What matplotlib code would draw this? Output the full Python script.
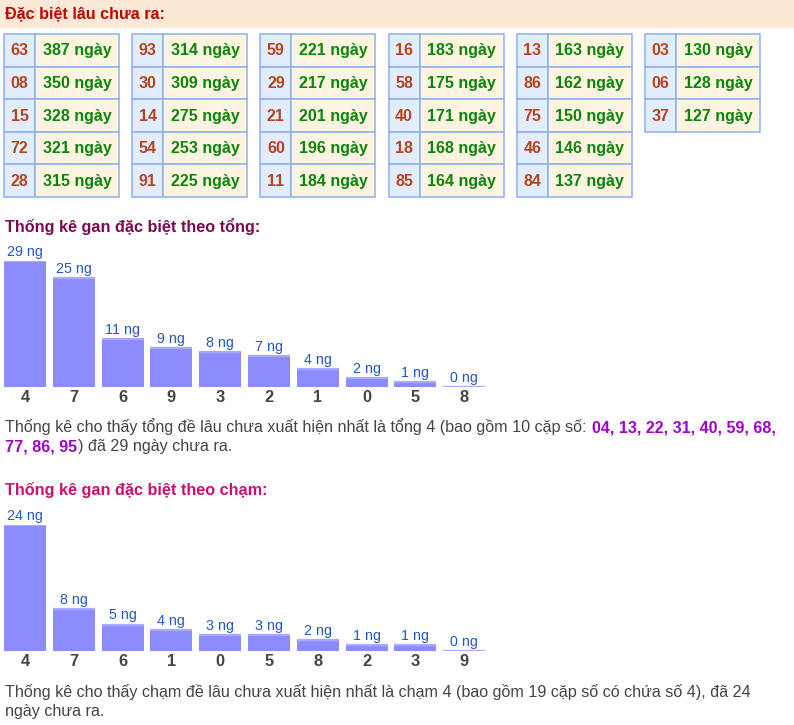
"""Thống kê gan đặc biệt: bảng lâu chưa ra và biểu đồ theo tổng / chạm."""
import matplotlib
matplotlib.use("Agg")
import matplotlib.pyplot as plt
from matplotlib.patches import Rectangle
from matplotlib import font_manager

plt.rcParams['font.family'] = ['Liberation Sans', 'DejaVu Sans']

# bảng "Đặc biệt lâu chưa ra"
cap_so = ["63", "08", "15", "72", "28",
          "93", "30", "14", "54", "91",
          "59", "29", "21", "60", "11",
          "16", "58", "40", "18", "85",
          "13", "86", "75", "46", "84",
          "03", "06", "37"]
so_ngay = [387, 350, 328, 321, 315,
           314, 309, 275, 253, 225,
           221, 217, 201, 196, 184,
           183, 175, 171, 168, 164,
           163, 162, 150, 146, 137,
           130, 128, 127]

# biểu đồ theo tổng
tong_labels = ["4", "7", "6", "9", "3", "2", "1", "0", "5", "8"]
tong_values = [29, 25, 11, 9, 8, 7, 4, 2, 1, 0]

# biểu đồ theo chạm
cham_labels = ["4", "7", "6", "1", "0", "5", "8", "2", "3", "9"]
cham_values = [24, 8, 5, 4, 3, 3, 2, 1, 1, 0]

W, H = 794, 725
fig = plt.figure(figsize=(W / 100, H / 100), dpi=100)
bg = fig.add_axes([0, 0, 1, 1])
bg.set_xlim(0, W)
bg.set_ylim(H, 0)
bg.axis('off')

# tiêu đề đầu trang
bg.add_patch(Rectangle((0, 0), W, 27.5, color='#FCEAD6', lw=0))
bg.text(5, 13.5, "Đặc biệt lâu chưa ra:", color='#C40000', fontsize=11.6,
        fontweight='bold', va='center', ha='left')

# các bảng
row_h = 32.6
top = 34
col1, col2 = 31, 84
for k, (num, d) in enumerate(zip(cap_so, so_ngay)):
    t, r = divmod(k, 5)
    x0 = 4 + 128.2 * t
    y0 = top + r * row_h
    bg.add_patch(Rectangle((x0, y0), col1, row_h, facecolor='#E2EEFF',
                           edgecolor='#8CB0F2', lw=1.1))
    bg.add_patch(Rectangle((x0 + col1, y0), col2, row_h, facecolor='#FFF3E2',
                           edgecolor='#8CB0F2', lw=1.1))
    bg.text(x0 + col1 / 2, y0 + row_h / 2 + 0.5, num, color='#B8441E',
            fontsize=11.5, fontweight='bold', va='center', ha='center')
    bg.text(x0 + col1 + col2 / 2, y0 + row_h / 2 + 0.5, f"{d} ngày",
            color='#0A870A', fontsize=11.5, fontweight='bold',
            va='center', ha='center')


def bar_chart(labels, values, base_y, title, title_color):
    bg.text(5, base_y - 160.5, title, color=title_color, fontsize=11.7,
            fontweight='bold', va='center', ha='left')
    ax = fig.add_axes([0.6 / W, (H - base_y) / H, 488 / W, 125.7 / H])
    x = range(len(values))
    ax.bar(x, values, width=0.86, color='#8C8CFF', lw=0)
    ax.hlines(values, [i - 0.43 for i in x], [i + 0.43 for i in x],
              color='#A9A9FF', lw=1.6)
    for i, v in enumerate(values):
        ax.annotate(f"{v} ng", (i, v), xytext=(0, 1.5),
                    textcoords='offset points', ha='center', va='bottom',
                    color='#2256C8', fontsize=10.3, annotation_clip=False)
    ax.set_xlim(-0.5, len(values) - 0.5)
    ax.set_ylim(0, max(values))
    ax.set_xticks(list(x))
    ax.set_xticklabels(labels, fontsize=11.8, fontweight='bold', color='#444444')
    ax.tick_params(axis='x', length=0, pad=2.5)
    ax.set_yticks([])
    for s in ax.spines.values():
        s.set_visible(False)
    ax.patch.set_alpha(0)


bar_chart(tong_labels, tong_values, 386.7,
          "Thống kê gan đặc biệt theo tổng:", '#7A0A52')
bar_chart(cham_labels, cham_values, 650.7,
          "Thống kê gan đặc biệt theo chạm:", '#CC1070')

renderer = fig.canvas.get_renderer()
GREY = '#444444'
PURPLE = '#A000CC'

# chữ đoạn văn trong bản gốc hẹp hơn: dùng Liberation Sans Narrow nếu có
names = {f.name for f in font_manager.fontManager.ttflist}
PARA_FONT = ['Liberation Sans Narrow'] if 'Liberation Sans Narrow' in names else ['Liberation Sans']
PARA_FONT = PARA_FONT + ['DejaVu Sans']

para1 = [
    [("Thống kê cho thấy tổng đề lâu chưa xuất hiện nhất là tổng 4 (bao gồm 10 cặp số:", GREY, 'normal'),
     ("04, 13, 22, 31, 40, 59, 68,", PURPLE, 'bold')],
    [("77, 86, 95", PURPLE, 'bold'),
     (") đã 29 ngày chưa ra.", GREY, 'normal')],
]
para2 = [
    [("Thống kê cho thấy chạm đề lâu chưa xuất hiện nhất là chạm 4 (bao gồm 19 cặp số có chứa số 4), đã 24", GREY, 'normal')],
    [("ngày chưa ra.", GREY, 'normal')],
]


def width_of(s, fs, weight='normal'):
    t = bg.text(0, 0, s, fontsize=fs, fontweight=weight, family=PARA_FONT)
    w = t.get_window_extent(renderer).width
    t.remove()
    return w


def line_width(parts, fs):
    sp = width_of("a a", fs) - width_of("aa", fs)
    total = sum(width_of(s, fs, wt) for s, _, wt in parts)
    return total + sp * (len(parts) - 1)


# cỡ chữ để dòng đầu kéo dài như bản gốc (x 5 -> 780)
FS = 10.0 * 775 / line_width(para1[0], 10.0)
space_w = width_of("a a", FS) - width_of("aa", FS)


def rich_line(x, y, parts):
    # các đoạn ghép lại; giữa hai đoạn có một dấu cách, trừ trước ")"
    for j, (s, color, weight) in enumerate(parts):
        if j > 0 and not s.startswith(")"):
            x += space_w
        t = bg.text(x, y, s, color=color, fontsize=FS, fontweight=weight,
                    family=PARA_FONT, va='baseline', ha='left')
        x += t.get_window_extent(renderer).width + 0.8


for y, parts in zip([432, 451], para1):
    rich_line(5, y, parts)
for y, parts in zip([697, 716], para2):
    rich_line(5, y, parts)

fig.savefig("out.png", dpi=100)
